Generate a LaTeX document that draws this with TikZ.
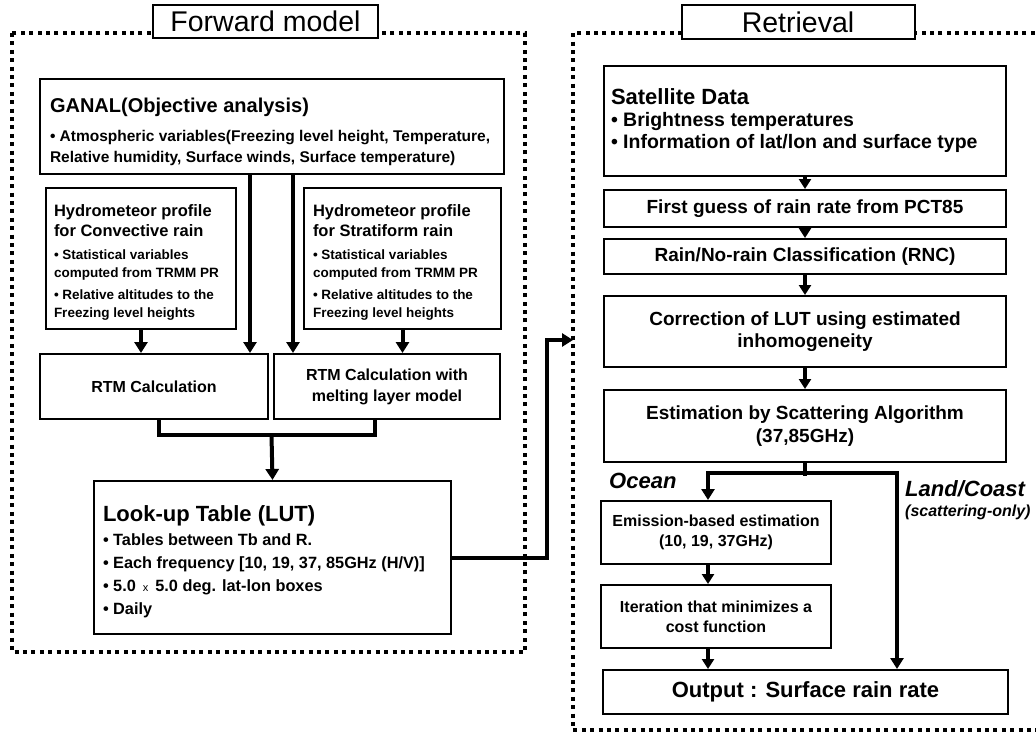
\documentclass[tikz,border=0pt]{standalone}
\usepackage{fontspec}
\setmainfont{Liberation Sans}
\usetikzlibrary{arrows.meta,calc}
\newcommand\topbox[3]{\begin{minipage}[c][#2][t]{#1}#3\end{minipage}}
\newcommand\midbox[3]{\begin{minipage}[c][#2][c]{#1}\centering #3\end{minipage}}
\newcommand\fs[2]{\fontsize{#1}{#2}\selectfont}
\begin{document}
\begin{tikzpicture}[x=1pt,y=-1pt,
  box/.style={draw=black, line width=2pt, inner sep=0pt, fill=white, font=\bfseries},
  titlebox/.style={draw=black, line width=2pt, inner sep=0pt, fill=white},
  frame/.style={line width=4pt, dash pattern=on 4pt off 4.4pt},
  link/.style={line width=4pt},
  conn/.style={line width=4pt, -{Triangle[width=13pt,length=11pt]}},
  sconn/.style={line width=3.2pt, -{Triangle[width=12pt,length=10pt]}},
  lab/.style={inner sep=0pt, anchor=west, font=\bfseries\itshape}]
\clip (0,0) rectangle (1036,742);
% frames
\draw[frame] (12,33) rectangle (525,652);
\draw[frame] (1060,33) -- (573,33) -- (573,730) -- (1060,730);
\node[titlebox, minimum width=225pt, minimum height=33pt, font=\fs{28.5}{28.5}] (fwdT) at (265.5,21.5) {Forward model};
\node[titlebox, minimum width=233pt, minimum height=34pt, font=\fs{28.5}{28.5}] (retT) at (798,22) {Retrieval};
% forward model boxes
\node[box, anchor=north west] (ganal) at (39,78) {\topbox{464pt}{95pt}{\raggedright\leftskip=10pt
\vspace*{19pt}{\fs{20}{20}GANAL(Objective analysis)\par}
\vspace{8pt}{\fs{15.5}{21}• Atmospheric variables(Freezing level height, Temperature,\\Relative humidity, Surface winds, Surface temperature)\par}}};
\node[box, anchor=north west] (conv) at (45,187) {\topbox{190pt}{141pt}{\raggedright\leftskip=8pt
\vspace*{17pt}{\fs{16.5}{20}Hydrometeor profile\\for Convective rain\par}
\vspace{5pt}{\fs{13.5}{18}• Statistical variables\\computed from TRMM PR\par}
\vspace{4pt}{\fs{13.5}{18}• Relative altitudes to the\\Freezing level heights\par}}};
\node[box, anchor=north west] (strat) at (303,187) {\topbox{197pt}{141pt}{\raggedright\leftskip=9pt
\vspace*{17pt}{\fs{16.5}{20}Hydrometeor profile\\for Stratiform rain\par}
\vspace{5pt}{\fs{13.5}{18}• Statistical variables\\computed from TRMM PR\par}
\vspace{4pt}{\fs{13.5}{18}• Relative altitudes to the\\Freezing level heights\par}}};
\node[box, anchor=north west] (rtm1) at (39,353) {\midbox{228pt}{65pt}{\fs{16}{21}RTM Calculation}};
\node[box, anchor=north west] (rtm2) at (273,353) {\midbox{226pt}{65pt}{\fs{16}{21}RTM Calculation with\\melting layer model}};
\node[box, anchor=north west] (lut) at (93,480) {\topbox{357pt}{153pt}{\raggedright\leftskip=9pt
\vspace*{25pt}{\fs{22}{22}Look-up Table (LUT)\par}
\vspace{1pt}{\fs{16.3}{23}• Tables between Tb and R.\\• Each frequency [10, 19, 37, 85GHz (H/V)]\\• 5.0\hspace{7pt}{\mdseries\fs{11}{11}x}\hspace{7pt}5.0 deg. lat-lon boxes\\• Daily\par}}};
% retrieval boxes
\node[box, anchor=north west] (sat) at (603,65) {\begin{minipage}[c][110pt][c]{402pt}\raggedright\leftskip=7pt
{\fs{22}{22}Satellite Data\par}
\vspace{0pt}{\fs{19.5}{22}• Brightness temperatures\\• Information of lat/lon and surface type\par}\end{minipage}};
\node[box, anchor=north west] (first) at (603,189) {\midbox{402pt}{37pt}{\fs{19}{22.5}First guess of rain rate from PCT85}};
\node[box, anchor=north west] (rnc) at (603,238) {\midbox{402pt}{35pt}{\fs{19}{22.5}Rain/No-rain Classification (RNC)}};
\node[box, anchor=north west] (corr) at (603,295) {\midbox{402pt}{71pt}{\fs{19}{22.5}Correction of LUT using estimated\\inhomogeneity}};
\node[box, anchor=north west] (est) at (603,389) {\midbox{402pt}{72pt}{\fs{19}{22.5}Estimation by Scattering Algorithm\\(37,85GHz)}};
\node[box, anchor=north west] (emis) at (600,500) {\midbox{230pt}{63pt}{\fs{16}{20}Emission-based estimation\\(10, 19, 37GHz)}};
\node[box, anchor=north west] (iter) at (600,584) {\midbox{230pt}{63pt}{\fs{16}{20}Iteration that minimizes a\\cost function}};
\node[box, anchor=north west] (out) at (602,669) {\midbox{405pt}{44pt}{\fs{22}{22}Output : Surface rain rate}};
% labels
\node[lab, font=\bfseries\itshape\fs{22}{22}] (ocean) at (609,481) {Ocean};
\node[lab, font=\bfseries\itshape\fs{22}{22}] (land) at (905,489) {Land/Coast};
\node[lab, font=\bfseries\itshape\fs{16}{16}] (scat) at (905,512) {(scattering-only)};
% forward connectors
\coordinate (ga) at (250,0);
\coordinate (gb) at (293,0);
\draw[conn] (ganal.south -| ga) -- (rtm1.north -| ga);
\draw[conn] (ganal.south -| gb) -- (rtm2.north -| gb);
\draw[conn] (conv.south) -- (rtm1.north -| conv.south);
\draw[conn] (strat.south) -- (rtm2.north -| strat.south);
\coordinate (mj) at (271.5,435);
\coordinate (ma) at (159,0);
\coordinate (mb) at (375,0);
\draw[link] (rtm1.south -| ma) |- (mj) -| (rtm2.south -| mb);
\draw[conn] (mj) -- (lut.north);
\coordinate (rin) at (573,340);
\coordinate (rv) at (547,0);
\draw[conn] (lut.east) -| (rv |- rin) -- (rin);
% retrieval connectors
\draw[sconn] (sat.south) -- (first.north);
\draw[sconn] (first.south) -- (rnc.north);
\draw[sconn] (rnc.south) -- (corr.north);
\draw[sconn] (corr.south) -- (est.north);
\coordinate (sp) at (804,473);
\coordinate (oc) at (708,0);
\coordinate (lc) at (897,0);
\draw[link] (est.south) -- ([yshift=-3pt]est.south |- sp);
\draw[conn] (sp) -| (emis.north -| oc);
\draw[conn] (sp) -| (out.north -| lc);
\draw[sconn] (emis.south -| oc) -- (iter.north -| oc);
\draw[sconn] (iter.south -| oc) -- (out.north -| oc);
\end{tikzpicture}
\end{document}
